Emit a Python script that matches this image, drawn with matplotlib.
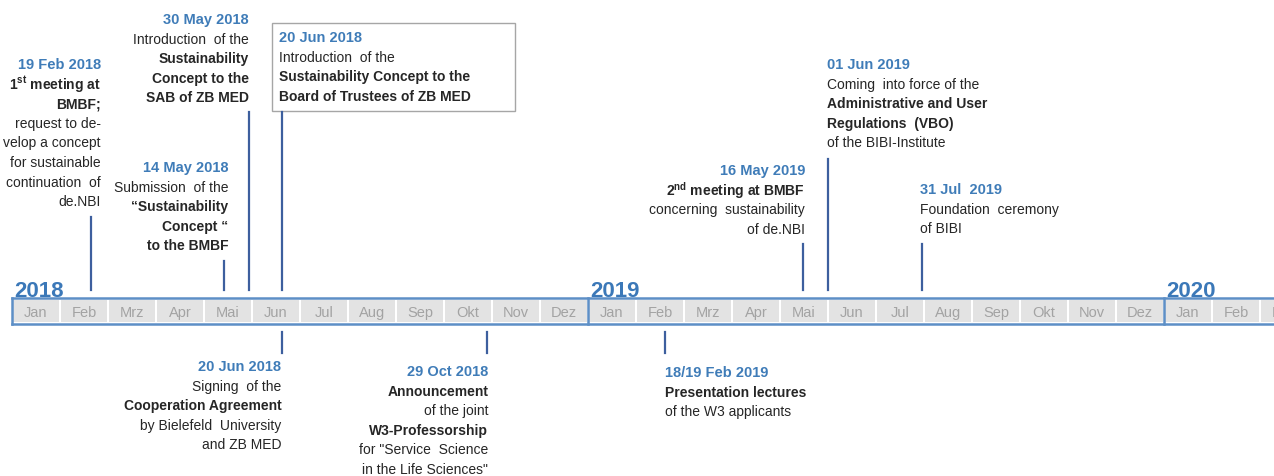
import datetime
import matplotlib
matplotlib.use("Agg")
import matplotlib.pyplot as plt
import matplotlib.patches as patches
from matplotlib import font_manager

# fonts: narrow sans if available
names = {f.name for f in font_manager.fontManager.ttflist}
FONT = "Liberation Sans Narrow" if "Liberation Sans Narrow" in names else "Liberation Sans"
plt.rcParams['font.family'] = [FONT, 'DejaVu Sans']
plt.rcParams['mathtext.fontset'] = 'custom'
plt.rcParams['mathtext.rm'] = FONT
plt.rcParams['mathtext.bf'] = FONT + ':bold'

# --- data ---
months = ["Jan", "Feb", "Mrz", "Apr", "Mai", "Jun",
          "Jul", "Aug", "Sep", "Okt", "Nov", "Dez"]
years = [2018, 2019, 2020]
n_months = 27

event_dates = ["2018-02-19", "2018-05-14", "2018-05-30", "2018-06-20",
               "2019-05-16", "2019-06-01", "2019-07-31",
               "2018-06-20", "2018-10-29", "2019-02-18"]
event_labels = ["19 Feb 2018", "14 May 2018", "30 May 2018", "20 Jun 2018",
                "16 May 2019", "01 Jun 2019", "31 Jul  2019",
                "20 Jun 2018", "29 Oct 2018", "18/19 Feb 2019"]
event_text = [
    [(r"1$^{\mathbf{st}}$ meeting at", True), ("BMBF;", True), ("request to de-", False),
     ("velop a concept", False), ("for sustainable", False), ("continuation  of", False),
     ("de.NBI", False)],
    [("Submission  of the", False), ("\u201cSustainability", True), ("Concept \u201c", True),
     ("to the BMBF", True)],
    [("Introduction  of the", False), ("Sustainability", True), ("Concept to the", True),
     ("SAB of ZB MED", True)],
    [("Introduction  of the", False), ("Sustainability Concept to the", True),
     ("Board of Trustees of ZB MED", True)],
    [(r"2$^{\mathbf{nd}}$ meeting at BMBF", True), ("concerning  sustainability", False),
     ("of de.NBI", False)],
    [("Coming  into force of the", False), ("Administrative and User", True),
     ("Regulations  (VBO)", True), ("of the BIBI-Institute", False)],
    [("Foundation  ceremony", False), ("of BIBI", False)],
    [("Signing  of the", False), ("Cooperation Agreement", True),
     ("by Bielefeld  University", False), ("and ZB MED", False)],
    [("Announcement", True), ("of the joint", False), ("W3-Professorship", True),
     ("for \"Service  Science", False), ("in the Life Sciences\"", False)],
    [("Presentation lectures", True), ("of the W3 applicants", False)],
]

# --- layout (pixel units: x offset of text from line, text top y, line y-span, alignment) ---
PX = 48.0  # pixels per month
STEP = 19.6
layout = [
    dict(dx=10, y=65, line=(218, 291), ha="right"),
    dict(dx=4, y=168, line=(262, 291), ha="right"),
    dict(dx=0, y=20, line=(113, 291), ha="right"),
    dict(dx=-3, y=38, line=(113, 291), ha="left", box=(272, 24, 515, 112)),
    dict(dx=2, y=171, line=(245, 291), ha="right"),
    dict(dx=-1, y=65, line=(160, 291), ha="left"),
    dict(dx=-2, y=190, line=(245, 291), ha="left"),
    dict(dx=-1, y=367, line=(333, 354), ha="right"),
    dict(dx=1, y=372, line=(333, 354), ha="right"),
    dict(dx=0, y=373, line=(333, 354), ha="left"),
]

DATE_BLUE = "#3f7cb8"
LINE_BLUE = "#3d5f9e"
BAND_BLUE = "#5d8fc6"
TEXT = "#262626"


def to_month(s):
    d = datetime.date.fromisoformat(s)
    days = (datetime.date(d.year + d.month // 12, d.month % 12 + 1, 1)
            - datetime.date(d.year, d.month, 1)).days
    return (d.year - 2018) * 12 + d.month - 1 + (d.day - 1) / days


fig = plt.figure(figsize=(12.74, 4.77), dpi=100)
ax = fig.add_axes([0, 0, 1, 1])
ax.set_xlim(-12 / PX, (1274 - 12) / PX)
ax.set_ylim(477, 0)
ax.axis("off")

# month band
y0, y1 = 299, 325
for i in range(n_months):
    ax.add_patch(patches.Rectangle((i + 0.03, y0 + 2), 0.94, y1 - y0 - 4,
                                   facecolor="#e3e3e3", edgecolor="none"))
    ax.text(i + 0.5, (y0 + y1) / 2 + 1, months[i % 12], ha="center", va="center",
            fontsize=10.5, color="#a3a3a3")
ax.plot([0, n_months + 1], [y0, y0], color=BAND_BLUE, lw=1.8)
ax.plot([0, n_months + 1], [y1, y1], color=BAND_BLUE, lw=1.8)
ax.plot([0, 0], [y0, y1], color=BAND_BLUE, lw=1.8)
for k, yr in enumerate(years):
    x = 12 * k
    if k > 0:
        ax.plot([x, x], [y0, y1], color=BAND_BLUE, lw=1.8)
    ax.text(x + 2 / PX, 297, str(yr), ha="left", va="baseline", fontsize=16,
            fontweight="bold", color="#3b78b8")

# events
for date, label, lines, lay in zip(event_dates, event_labels, event_text, layout):
    x = to_month(date)
    ax.plot([x, x], lay["line"], color=LINE_BLUE, lw=1.6)
    if "box" in lay:
        bx0, by0, bx1, by1 = lay["box"]
        ax.add_patch(patches.Rectangle((bx0 / PX - 12 / PX, by0), (bx1 - bx0) / PX,
                                       by1 - by0, facecolor="white",
                                       edgecolor="#a6a6a6", lw=1.0))
    tx = x + lay["dx"] / PX
    y = lay["y"]
    ax.text(tx, y, label, ha=lay["ha"], va="center", fontsize=10.5,
            fontweight="bold", color=DATE_BLUE)
    for txt, bold in lines:
        y += STEP
        ax.text(tx, y, txt, ha=lay["ha"], va="center", fontsize=10,
                fontweight="bold" if bold else "normal", color=TEXT)

fig.savefig("out.png", dpi=100)
